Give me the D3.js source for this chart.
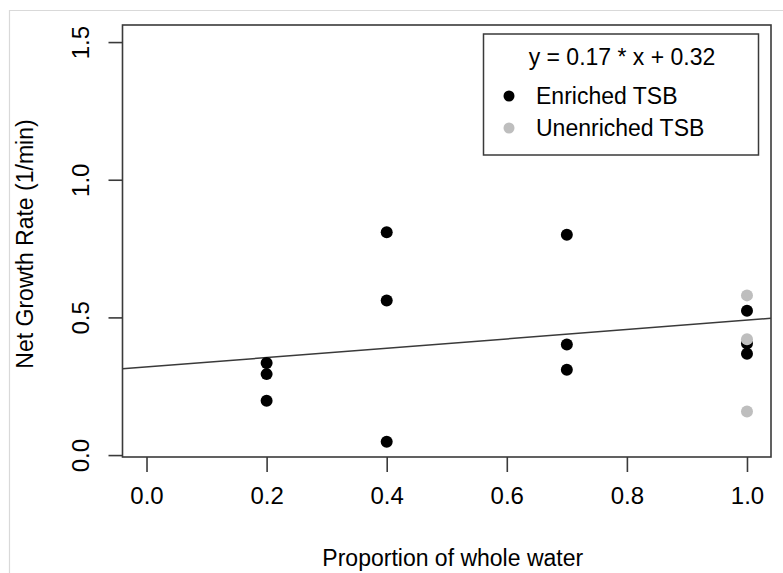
<!DOCTYPE html>
<html>
<head>
<meta charset="utf-8">
<script src="https://cdn.jsdelivr.net/npm/d3@7"></script>
<style>
  body { margin: 0; background: #fff; }
  text { font-family: "Liberation Sans", Arial, sans-serif; fill: #000; }
</style>
</head>
<body>
<div id="chart"></div>
<script>
// proportion of whole water and net growth rate
const enrichedX = [0.2, 0.2, 0.2, 0.4, 0.4, 0.4, 0.7, 0.7, 0.7, 1.0, 1.0, 1.0];
const enrichedY = [0.334, 0.294, 0.197, 0.809, 0.561, 0.048, 0.800, 0.402, 0.310, 0.524, 0.405, 0.368];
const unenrichedX = [1.0, 1.0, 1.0];
const unenrichedY = [0.580, 0.421, 0.158];
const fitSlope = 0.17;
const fitIntercept = 0.32;
const xTicks = [0, 0.2, 0.4, 0.6, 0.8, 1.0];
const yTicks = [0, 0.5, 1.0, 1.5];
const legendLabels = ["Enriched TSB", "Unenriched TSB"];
const legendColors = ["#000000", "#bebebe"];

const W = 783, H = 573;
const box = { left: 122.5, right: 771, top: 25, bottom: 457 };

const svg = d3.select("#chart").append("svg")
    .attr("width", W).attr("height", H);

// faint frame around the figure
svg.append("path")
    .attr("d", `M9.5,${H} V10.5 H${W}`)
    .attr("fill", "none").attr("stroke", "#d9d9d9").attr("stroke-width", 1.2);

const x = d3.scaleLinear().domain([-0.04, 1.04]).range([box.left, box.right]);
const y = d3.scaleLinear().domain([-0.007, 1.562]).range([box.bottom, box.top]);

const fontSize = 23;
const tickFont = 24;
const lineCol = "#3a3a3a";

// x axis
const xAxis = svg.append("g")
    .attr("transform", `translate(0,${box.bottom})`)
    .call(d3.axisBottom(x).tickValues(xTicks).tickFormat(d3.format(".1f"))
        .tickSize(15).tickPadding(15));
xAxis.select(".domain").remove();
xAxis.selectAll(".tick line").attr("stroke", lineCol).attr("stroke-width", 1.6);
xAxis.selectAll(".tick text").style("font-size", tickFont + "px")
    .style("font-family", "Liberation Sans, Arial, sans-serif").attr("fill", "#000");

// y axis, labels turned like R's las = 0
const yAxis = svg.append("g")
    .attr("transform", `translate(${box.left},0)`)
    .call(d3.axisLeft(y).tickValues(yTicks).tickFormat(d3.format(".1f"))
        .tickSize(14).tickPadding(0));
yAxis.select(".domain").remove();
yAxis.selectAll(".tick line").attr("stroke", lineCol).attr("stroke-width", 1.6);
yAxis.selectAll(".tick text")
    .attr("x", null).attr("dy", null)
    .attr("text-anchor", "middle")
    .attr("transform", "translate(-34,0) rotate(-90)")
    .style("font-size", tickFont + "px")
    .style("font-family", "Liberation Sans, Arial, sans-serif").attr("fill", "#000");

// axis titles
svg.append("text")
    .attr("x", (box.left + box.right) / 2 + 6).attr("y", 566)
    .attr("text-anchor", "middle").style("font-size", fontSize + "px")
    .text("Proportion of whole water");

svg.append("text")
    .attr("transform", `translate(33,${(box.top + box.bottom) / 2 + 3}) rotate(-90)`)
    .attr("text-anchor", "middle").style("font-size", fontSize + "px")
    .text("Net Growth Rate (1/min)");

// fitted line across the whole plot region
const xd = x.domain();
svg.append("line")
    .attr("x1", x(xd[0])).attr("y1", y(fitSlope * xd[0] + fitIntercept))
    .attr("x2", x(xd[1])).attr("y2", y(fitSlope * xd[1] + fitIntercept))
    .attr("stroke", lineCol).attr("stroke-width", 1.5);

// points
const enriched = enrichedX.map((v, i) => ({ x: v, y: enrichedY[i] }));
const unenriched = unenrichedX.map((v, i) => ({ x: v, y: unenrichedY[i] }));

svg.append("g").selectAll("circle").data(enriched).join("circle")
    .attr("cx", d => x(d.x)).attr("cy", d => y(d.y)).attr("r", 6)
    .attr("fill", legendColors[0]);

svg.append("g").selectAll("circle").data(unenriched).join("circle")
    .attr("cx", d => x(d.x)).attr("cy", d => y(d.y)).attr("r", 6)
    .attr("fill", legendColors[1]);

// plot box
svg.append("rect")
    .attr("x", box.left).attr("y", box.top)
    .attr("width", box.right - box.left).attr("height", box.bottom - box.top)
    .attr("fill", "none").attr("stroke", lineCol).attr("stroke-width", 1.6);

// legend
const lg = svg.append("g");
lg.append("rect")
    .attr("x", 483.5).attr("y", 34).attr("width", 275).attr("height", 121)
    .attr("fill", "#fff").attr("stroke", lineCol).attr("stroke-width", 1.5);
lg.append("text")
    .attr("x", 622).attr("y", 65).attr("text-anchor", "middle")
    .style("font-size", fontSize + "px")
    .text(`y = ${fitSlope} * x + ${fitIntercept}`);

const rows = lg.selectAll("g.row").data(legendLabels).join("g")
    .attr("class", "row")
    .attr("transform", (d, i) => `translate(509,${96 + i * 32})`);
rows.append("circle").attr("r", 5.5).attr("fill", (d, i) => legendColors[i]);
rows.append("text").attr("x", 27).attr("y", 8)
    .style("font-size", fontSize + "px").text(d => d);
</script>
</body>
</html>
